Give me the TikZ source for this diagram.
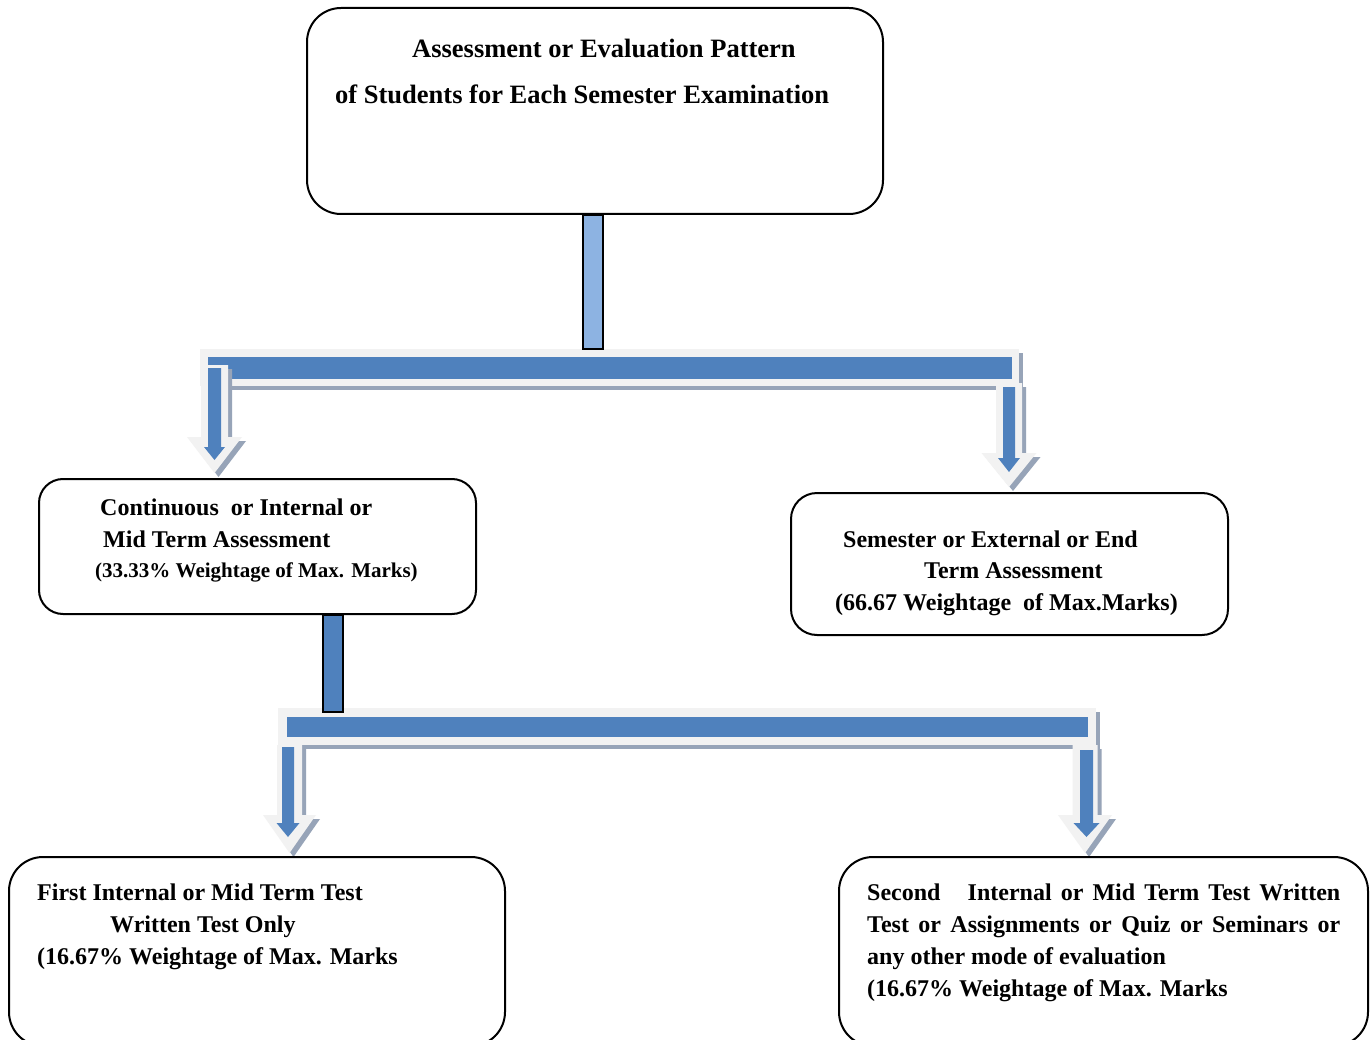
\documentclass[tikz,border=0pt]{standalone}
\usepackage{fontspec}
\setmainfont{Liberation Serif}
\definecolor{barblue}{HTML}{4F81BD}
\definecolor{lightblue}{HTML}{8DB3E2}
\definecolor{outergray}{HTML}{F2F2F2}
\definecolor{shadowgray}{HTML}{97A4B8}
\newcommand\blk[7]{\fill[#7] ({#1-#5},#2) -- ({#1+#5},#2) -- ({#1+#5},#3) -- ({#1+#6},#3) -- (#1,#4) -- ({#1-#6},#3) -- ({#1-#5},#3) -- cycle;}
\tikzset{
  box/.style={draw=black, line width=2pt, fill=white, rectangle, inner sep=0pt},
  txt/.style={anchor=base west, inner sep=0pt, font=\bfseries\fontsize{24}{28}\selectfont},
  ttl/.style={anchor=base west, inner sep=0pt, font=\bfseries\fontsize{26.5}{30}\selectfont},
  sml/.style={anchor=base west, inner sep=0pt, font=\bfseries\fontsize{21}{25}\selectfont},
  conn/.style={draw=black, line width=2pt}
}
\begin{document}
\begin{tikzpicture}[x=1pt,y=-1pt]
\useasboundingbox (0,0) rectangle (1370,1040);
\clip (0,0) rectangle (1370,1040);
\fill[white] (0,0) rectangle (1370,1040);

% ---------- first splitter bar ----------
\begin{scope}[shift={(4,4)}]
  \fill[shadowgray] (200,349) rectangle (1019,386);
\end{scope}
\fill[outergray] (200,349) rectangle (1019,386);
\fill[barblue] (208,357) rectangle (1012,379);
\begin{scope}[shift={(4,4)}]
  \blk{214.5}{365}{437}{473}{13.5}{27.5}{shadowgray}
  \blk{1009}{383}{453}{487}{13}{27.5}{shadowgray}
\end{scope}
\blk{214.5}{365}{437}{473}{13.5}{27.5}{outergray}
\blk{214.5}{368}{447}{460}{6.5}{10.5}{barblue}
\blk{1009}{383}{453}{487}{13}{27.5}{outergray}
\blk{1009}{387}{458}{472}{6}{11}{barblue}

% ---------- second splitter bar ----------
\begin{scope}[shift={(4,4)}]
  \fill[shadowgray] (278,708) rectangle (1096,745);
\end{scope}
\fill[outergray] (278,708) rectangle (1096,745);
\fill[barblue] (287,717) rectangle (1088,737);
\begin{scope}[shift={(4,4)}]
  \blk{289.5}{745}{815}{853}{12.5}{26.5}{shadowgray}
  \blk{1085}{745}{815}{853}{12.5}{27}{shadowgray}
\end{scope}
\blk{289.5}{745}{815}{853}{12.5}{26.5}{outergray}
\blk{288}{747}{823}{837}{6}{11.5}{barblue}
\blk{1085}{745}{815}{853}{12.5}{27}{outergray}
\blk{1086.5}{750}{823}{837}{6.5}{13}{barblue}

% ---------- boxes ----------
\node[box, rounded corners=34pt, minimum width=576pt, minimum height=206pt] (top) at (595,111) {};
\node[box, rounded corners=24pt, minimum width=437pt, minimum height=135pt] (mid) at (257.5,546.5) {};
\node[box, rounded corners=26pt, minimum width=437pt, minimum height=142pt] (sem) at (1009.5,564) {};
\node[box, rounded corners=34pt, minimum width=496pt, minimum height=189pt] (first) at (257,951.5) {};
\node[box, rounded corners=34pt, minimum width=529pt, minimum height=189pt] (second) at (1103.5,951.5) {};

% ---------- vertical connectors ----------
\path[conn, fill=lightblue] (top.south -| 583,0) rectangle (603,349);
\path[conn, fill=barblue] (mid.south -| 323,0) rectangle (343,712);

% ---------- texts ----------
\node[ttl] (t1) at (412,58) {Assessment or Evaluation Pattern};
\node[ttl] (t2) at (335,104) {of Students for Each Semester Examination};

\node[txt] (m1) at (100,515) {Continuous\ \ or Internal or};
\node[txt] (m2) at (103,547) {Mid Term Assessment};
\node[sml] (m3) at (95,577) {(33.33\% Weightage of Max. Marks)};

\node[txt] (s1) at (843,547) {Semester or External or End};
\node[txt] (s2) at (924,578) {Term Assessment};
\node[txt] (s3) at (835,610) {(66.67 Weightage\ \ of Max.Marks)};

\node[txt] (f1) at (37,900) {First Internal or Mid Term Test};
\node[txt] (f2) at (110,932) {Written Test Only};
\node[txt] (f3) at (37,964) {(16.67\% Weightage of Max. Marks};

\node[txt] (r1) at (867,900) {\makebox[473pt][s]{Second\ \ \ Internal or Mid Term Test Written}};
\node[txt] (r2) at (867,932) {\makebox[473pt][s]{Test or Assignments or Quiz or Seminars or}};
\node[txt] (r3) at (867,964) {any other mode of evaluation};
\node[txt] (r4) at (867,996) {(16.67\% Weightage of Max. Marks};
\end{tikzpicture}
\end{document}
